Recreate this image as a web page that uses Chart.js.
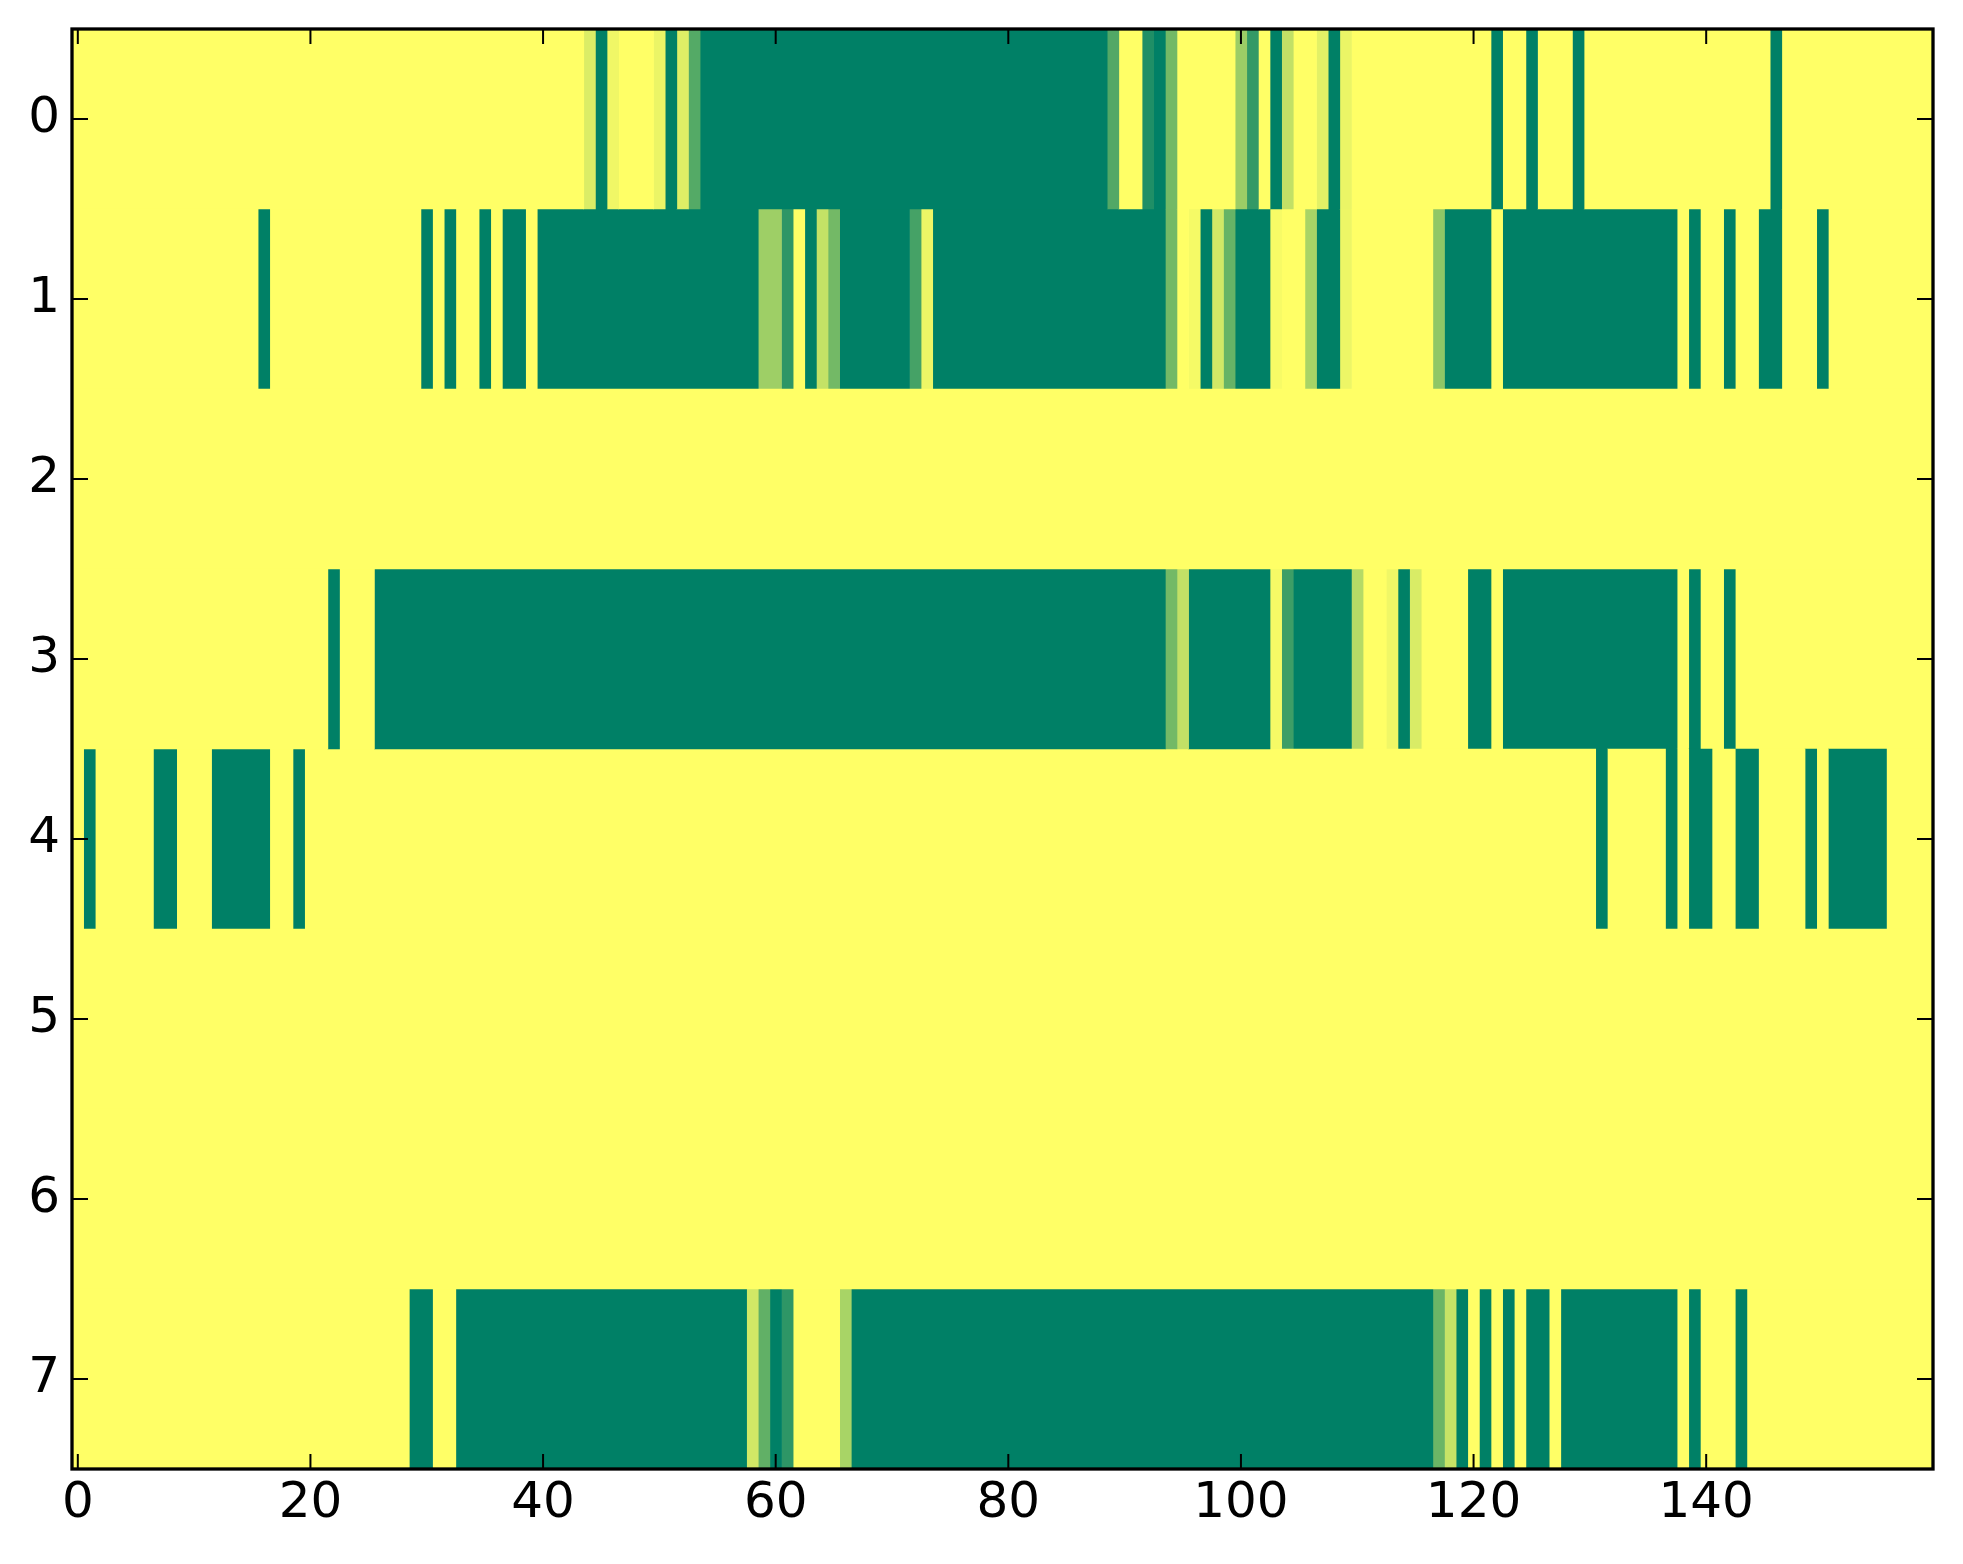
<!DOCTYPE html>
<html lang="en">
<head>
    <meta charset="UTF-8">
    <title>Heatmap</title>
    <script src="https://cdn.jsdelivr.net/npm/chart.js"></script>
    <style>
        html, body { margin: 0; padding: 0; background: #fff; }
        canvas { display: block; }
    </style>
</head>
<body>
    <canvas id="heatmap" width="1963" height="1564"></canvas>

    <script>
        // row labels (top to bottom) and x tick values
        const rowLabels = ['0', '1', '2', '3', '4', '5', '6', '7'];
        const xTicks = [0, 20, 40, 60, 80, 100, 120, 140];

        // one value per column (0..159), 0 = green, 1 = yellow
        const row0 = [
            1,1,1,1,1,1,1,1,1,1,1,1,1,1,1,1,1,1,1,1,
            1,1,1,1,1,1,1,1,1,1,1,1,1,1,1,1,1,1,1,1,
            1,1,1,1,.86,0,.94,1,1,1,.92,0,.87,.33,0,0,0,0,0,0,
            0,0,0,0,0,0,0,0,0,0,0,0,0,0,0,0,0,0,0,0,
            0,0,0,0,0,0,0,0,0,.32,1,1,.12,0,.45,1,1,1,1,1,
            .61,.2,1,0,.76,1,1,.89,0,.92,1,1,1,1,1,1,1,1,1,1,
            1,1,0,1,1,0,1,1,1,0,1,1,1,1,1,1,1,1,1,1,
            1,1,1,1,1,1,0,1,1,1,1,1,1,1,1,1,1,1,1,1
        ];
        const row1 = [
            1,1,1,1,1,1,1,1,1,1,1,1,1,1,1,1,0,1,1,1,
            1,1,1,1,1,1,1,1,1,1,0,1,0,1,1,0,1,0,0,1,
            0,0,0,0,0,0,0,0,0,0,0,0,0,0,0,0,0,0,0,.62,
            .62,.18,1,0,.77,.45,0,0,0,0,0,0,.27,.93,0,0,0,0,0,0,
            0,0,0,0,0,0,0,0,0,0,0,0,0,0,.45,1,.96,0,.82,.4,
            0,0,0,.97,1,1,.66,0,0,.93,1,1,1,1,1,1,1,.56,0,0,
            0,0,1,0,0,0,0,0,0,0,0,0,0,0,0,0,0,0,1,0,
            1,1,0,1,1,0,0,1,1,1,0,1,1,1,1,1,1,1,1,1
        ];
        const row2 = [
            1,1,1,1,1,1,1,1,1,1,1,1,1,1,1,1,1,1,1,1,
            1,1,1,1,1,1,1,1,1,1,1,1,1,1,1,1,1,1,1,1,
            1,1,1,1,1,1,1,1,1,1,1,1,1,1,1,1,1,1,1,1,
            1,1,1,1,1,1,1,1,1,1,1,1,1,1,1,1,1,1,1,1,
            1,1,1,1,1,1,1,1,1,1,1,1,1,1,1,1,1,1,1,1,
            1,1,1,1,1,1,1,1,1,1,1,1,1,1,1,1,1,1,1,1,
            1,1,1,1,1,1,1,1,1,1,1,1,1,1,1,1,1,1,1,1,
            1,1,1,1,1,1,1,1,1,1,1,1,1,1,1,1,1,1,1,1
        ];
        const row3 = [
            1,1,1,1,1,1,1,1,1,1,1,1,1,1,1,1,1,1,1,1,
            1,1,0,1,1,1,0,0,0,0,0,0,0,0,0,0,0,0,0,0,
            0,0,0,0,0,0,0,0,0,0,0,0,0,0,0,0,0,0,0,0,
            0,0,0,0,0,0,0,0,0,0,0,0,0,0,0,0,0,0,0,0,
            0,0,0,0,0,0,0,0,0,0,0,0,0,0,.45,.76,0,0,0,0,
            0,0,0,.96,.24,0,0,0,0,0,.71,1,1,.94,0,.85,1,1,1,1,
            0,0,1,0,0,0,0,0,0,0,0,0,0,0,0,0,0,0,1,0,
            1,1,0,1,1,1,1,1,1,1,1,1,1,1,1,1,1,1,1,1
        ];
        const row4 = [
            1,0,1,1,1,1,1,0,0,1,1,1,0,0,0,0,0,1,1,0,
            1,1,1,1,1,1,1,1,1,1,1,1,1,1,1,1,1,1,1,1,
            1,1,1,1,1,1,1,1,1,1,1,1,1,1,1,1,1,1,1,1,
            1,1,1,1,1,1,1,1,1,1,1,1,1,1,1,1,1,1,1,1,
            1,1,1,1,1,1,1,1,1,1,1,1,1,1,1,1,1,1,1,1,
            1,1,1,1,1,1,1,1,1,1,1,1,1,1,1,1,1,1,1,1,
            1,1,1,1,1,1,1,1,1,1,1,0,1,1,1,1,1,0,1,0,
            0,1,1,0,0,1,1,1,1,0,1,0,0,0,0,0,1,1,1,1
        ];
        const row5 = [
            1,1,1,1,1,1,1,1,1,1,1,1,1,1,1,1,1,1,1,1,
            1,1,1,1,1,1,1,1,1,1,1,1,1,1,1,1,1,1,1,1,
            1,1,1,1,1,1,1,1,1,1,1,1,1,1,1,1,1,1,1,1,
            1,1,1,1,1,1,1,1,1,1,1,1,1,1,1,1,1,1,1,1,
            1,1,1,1,1,1,1,1,1,1,1,1,1,1,1,1,1,1,1,1,
            1,1,1,1,1,1,1,1,1,1,1,1,1,1,1,1,1,1,1,1,
            1,1,1,1,1,1,1,1,1,1,1,1,1,1,1,1,1,1,1,1,
            1,1,1,1,1,1,1,1,1,1,1,1,1,1,1,1,1,1,1,1
        ];
        const row6 = [
            1,1,1,1,1,1,1,1,1,1,1,1,1,1,1,1,1,1,1,1,
            1,1,1,1,1,1,1,1,1,1,1,1,1,1,1,1,1,1,1,1,
            1,1,1,1,1,1,1,1,1,1,1,1,1,1,1,1,1,1,1,1,
            1,1,1,1,1,1,1,1,1,1,1,1,1,1,1,1,1,1,1,1,
            1,1,1,1,1,1,1,1,1,1,1,1,1,1,1,1,1,1,1,1,
            1,1,1,1,1,1,1,1,1,1,1,1,1,1,1,1,1,1,1,1,
            1,1,1,1,1,1,1,1,1,1,1,1,1,1,1,1,1,1,1,1,
            1,1,1,1,1,1,1,1,1,1,1,1,1,1,1,1,1,1,1,1
        ];
        const row7 = [
            1,1,1,1,1,1,1,1,1,1,1,1,1,1,1,1,1,1,1,1,
            1,1,1,1,1,1,1,1,1,0,0,1,1,0,0,0,0,0,0,0,
            0,0,0,0,0,0,0,0,0,0,0,0,0,0,0,0,0,0,.82,.38,
            0,.18,1,1,1,1,.66,0,0,0,0,0,0,0,0,0,0,0,0,0,
            0,0,0,0,0,0,0,0,0,0,0,0,0,0,0,0,0,0,0,0,
            0,0,0,0,0,0,0,0,0,0,0,0,0,0,0,0,0,.42,.78,0,
            1,0,1,0,1,0,0,1,0,0,0,0,0,0,0,0,0,0,1,0,
            1,1,1,0,1,1,1,1,1,1,1,1,1,1,1,1,1,1,1,1
        ];
        const cells = [row0, row1, row2, row3, row4, row5, row6, row7];

        // matplotlib "summer" colormap
        function summer(v) {
            const r = Math.round(255 * v);
            const g = Math.round(255 * (0.5 + 0.5 * v));
            return `rgb(${r},${g},102)`;
        }

        // merge equal neighbouring cells into one floating bar per run
        const runs = cells.map(row => {
            const out = [];
            let start = 0;
            for (let c = 1; c <= row.length; c++) {
                if (c === row.length || row[c] !== row[start]) {
                    out.push({ from: start - 0.5, to: c - 0.5, v: row[start] });
                    start = c;
                }
            }
            return out;
        });
        const maxRuns = Math.max(...runs.map(r => r.length));

        const datasets = [];
        for (let k = 0; k < maxRuns; k++) {
            const data = [];
            runs.forEach((r, i) => {
                if (r[k]) data.push({ x: [r[k].from, r[k].to], y: rowLabels[i], v: r[k].v });
            });
            datasets.push({
                data: data,
                grouped: false,
                barPercentage: 1,
                categoryPercentage: 1,
                borderWidth: 0,
                backgroundColor: ctx => ctx.raw ? summer(ctx.raw.v) : 'transparent'
            });
        }

        // inward ticks on all four sides plus the frame
        const frame = {
            id: 'frame',
            afterDatasetsDraw(chart) {
                const { ctx, chartArea: a, scales } = chart;
                ctx.save();
                ctx.strokeStyle = '#000';
                ctx.lineWidth = 2;
                ctx.beginPath();
                xTicks.forEach(v => {
                    const px = scales.x.getPixelForValue(v);
                    ctx.moveTo(px, a.bottom); ctx.lineTo(px, a.bottom - 15);
                    ctx.moveTo(px, a.top); ctx.lineTo(px, a.top + 15);
                });
                rowLabels.forEach((l, i) => {
                    const py = scales.y.getPixelForValue(i);
                    ctx.moveTo(a.left, py); ctx.lineTo(a.left + 16, py);
                    ctx.moveTo(a.right, py); ctx.lineTo(a.right - 16, py);
                });
                ctx.stroke();
                ctx.lineWidth = 3.3;
                ctx.strokeRect(a.left, a.top, a.right - a.left, a.bottom - a.top);
                ctx.restore();
            }
        };

        new Chart(document.getElementById('heatmap'), {
            type: 'bar',
            data: { labels: rowLabels, datasets: datasets },
            plugins: [frame],
            options: {
                indexAxis: 'y',
                responsive: false,
                animation: false,
                layout: { padding: { top: 29, right: 30, left: 0, bottom: 0 } },
                plugins: {
                    legend: { display: false },
                    tooltip: { enabled: false }
                },
                scales: {
                    x: {
                        type: 'linear',
                        min: -0.5,
                        max: 159.5,
                        afterBuildTicks: s => { s.ticks = xTicks.map(v => ({ value: v })); },
                        afterFit: s => {
                            s.height = 95;
                            s.paddingLeft = 0;
                            s.paddingRight = 0;
                        },
                        grid: { display: false, drawTicks: false },
                        border: { display: false },
                        ticks: {
                            color: '#000',
                            padding: 5,
                            maxRotation: 0,
                            autoSkip: false,
                            font: { family: 'DejaVu Sans', size: 50 }
                        }
                    },
                    y: {
                        type: 'category',
                        labels: rowLabels,
                        offset: true,
                        afterFit: s => {
                            s.width = 72;
                            s.paddingTop = 0;
                            s.paddingBottom = 0;
                        },
                        grid: { display: false, drawTicks: false },
                        border: { display: false },
                        ticks: {
                            color: '#000',
                            padding: 12,
                            font: { family: 'DejaVu Sans', size: 50 }
                        }
                    }
                }
            }
        });
    </script>
</body>
</html>
